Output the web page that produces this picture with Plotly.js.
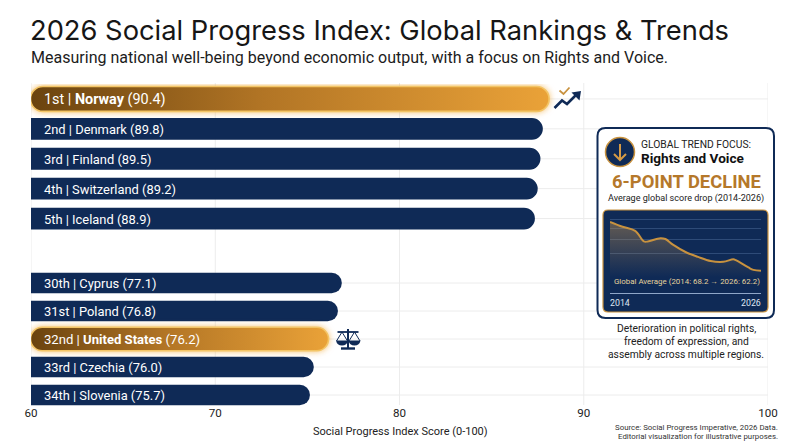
<!DOCTYPE html>
<html><head><meta charset="utf-8">
<script src="https://cdn.plot.ly/plotly-3.0.1.min.js"></script>
<style>html,body{margin:0;padding:0;background:#fff}#c{width:800px;height:447px}</style>
</head><body><div id="c"></div>
<script>
// ---- data ----
const topRanks = ['1st','2nd','3rd','4th','5th'];
const topCountries = ['Norway','Denmark','Finland','Switzerland','Iceland'];
const topScores = ['90.4','89.8','89.5','89.2','88.9'];      // as printed on the bars
const topBarEnds = [88.12,87.78,87.65,87.5,87.35];           // bar ends as read against the axis
const topFocus = [true,false,false,false,false];
const topLabelSizes = [14.4,12.9,12.9,12.9,12.9];

const lowRanks = ['30th','31st','32nd','33rd','34th'];
const lowCountries = ['Cyprus','Poland','United States','Czechia','Slovenia'];
const lowScores = ['77.1','76.8','76.2','76.0','75.7'];
const lowBarEnds = [76.87,76.66,76.15,75.35,75.14];
const lowFocus = [false,false,true,false,false];
const lowLabelSizes = [12.9,12.9,13.1,12.9,12.9];

const xTicks = [60,70,80,90,100];
const trendYears =  [2014,2015,2016,2016.7,2017,2018,2018.4,2019,2020,2021,2022,2023,2023.8,2024,2025,2025.4,2026];
const trendValues = [68.2,67.6,67.1,65.8,65.8,66.2,66.1,65.4,64.5,63.9,63.4,63.3,63.6,63.5,62.6,62.3,62.2];
const trendGrid = [68.45,67.35,66.0,64.3];

const NAVY='#0f2a56', GOLD='#b5782a', W=800, H=447;
const PX=x=>x/W, PY=y=>1-y/H;
const P=(x,y)=>PX(x)+' '+PY(y);
const path=pts=>'M'+pts.map(p=>P(p[0],p[1])).join(' L');
function rr(x0,y0,x1,y1,r){
  return 'M'+P(x0+r,y0)+' L'+P(x1-r,y0)+' Q'+P(x1,y0)+' '+P(x1,y0+r)+' L'+P(x1,y1-r)+' Q'+P(x1,y1)+' '+P(x1-r,y1)+
   ' L'+P(x0+r,y1)+' Q'+P(x0,y1)+' '+P(x0,y1-r)+' L'+P(x0,y0+r)+' Q'+P(x0,y0)+' '+P(x0+r,y0)+' Z';
}
const pathShape=(d,o)=>Object.assign({type:'path',xref:'paper',yref:'paper',path:d,layer:'above',line:{width:0}},o);
const GRID='#ececec';

// gridlines come first so that the panel covers them
const shapes=[];
xTicks.forEach(v=>shapes.push({type:'line',xref:'x',yref:'paper',x0:v,x1:v,y0:PY(83),y1:PY(405),layer:'below',line:{color:GRID,width:1}}));
topCountries.forEach(c=>shapes.push({type:'line',xref:'paper',yref:'y',x0:PX(31),x1:PX(768),y0:c,y1:c,layer:'below',line:{color:GRID,width:1}}));
lowCountries.forEach(c=>shapes.push({type:'line',xref:'paper',yref:'y2',x0:PX(31),x1:PX(768),y0:c,y1:c,layer:'below',line:{color:GRID,width:1}}));
// panel
shapes.push(pathShape(rr(597.5,128,774,318,8),{layer:'below',fillcolor:'#fff',line:{color:NAVY,width:2}}));
shapes.push(pathShape(rr(603,210,768,312,5),{layer:'below',fillcolor:NAVY,line:{color:'#c8923f',width:1.2}}));
shapes.push({type:'line',xref:'paper',yref:'paper',x0:PX(610),x1:PX(761),y0:PY(293.5),y1:PY(293.5),layer:'below',line:{color:'#8fa6c8',width:1}});
// round badge with down arrow
shapes.push({type:'circle',xref:'paper',yref:'paper',x0:PX(605.5),x1:PX(634.5),y0:PY(166.5),y1:PY(137.5),layer:'above',fillcolor:NAVY,line:{color:'#c8923f',width:1.5}});
shapes.push(pathShape(path([[620,144],[620,160]]),{line:{color:'#d59a45',width:2}}));
shapes.push(pathShape(path([[614,154],[620,160],[626,154]]),{fillcolor:'rgba(0,0,0,0)',line:{color:'#d59a45',width:2}}));
// trend icon
shapes.push(pathShape(path([[554.5,108],[562,100.5],[567,104],[577,94]]),{fillcolor:'rgba(0,0,0,0)',line:{color:NAVY,width:2.6}}));
shapes.push(pathShape(path([[581,91],[571.5,92.5],[579.5,100.5]])+' Z',{fillcolor:NAVY}));
shapes.push(pathShape(path([[559.5,90.5],[563.5,94],[569.5,87.5]]),{fillcolor:'rgba(0,0,0,0)',line:{color:'#c8923f',width:1.8}}));
// scales icon
shapes.push(pathShape(path([[348,329],[348,348]]),{line:{color:NAVY,width:2}}));
shapes.push(pathShape(path([[337.5,332],[358.5,332]]),{line:{color:NAVY,width:1.8}}));
shapes.push(pathShape(path([[341,348.5],[355,348.5]]),{line:{color:NAVY,width:2.4}}));
[[342,-1],[354.5,1]].forEach(s=>{
  const c=s[0];
  shapes.push(pathShape(path([[c-5.5,341],[c,332],[c+5.5,341]]),{fillcolor:'rgba(0,0,0,0)',line:{color:NAVY,width:1}}));
  shapes.push(pathShape('M'+P(c-6,340.5)+' L'+P(c+6,340.5)+' Q'+P(c+5,345.5)+' '+P(c,345.5)+' Q'+P(c-5,345.5)+' '+P(c-6,340.5)+' Z',{fillcolor:NAVY}));
});

const ann=(text,x,y,size,color,anchor,extra)=>Object.assign({text,xref:'paper',yref:'paper',x:PX(x),y:PY(y),xanchor:anchor||'left',yanchor:'middle',showarrow:false,borderpad:0,
  font:{family:'Roboto',size,color}},extra||{});
const annotations=[
 ann('Measuring national well-being beyond economic output, with a focus on Rights and Voice.',30,58,16.05,'#1c1c1c'),
 ann('GLOBAL TREND FOCUS:',640,144,10.3,'#222'),
 ann('<b>Rights and Voice</b>',640,157.5,13.6,'#111'),
 ann('<b>6-POINT DECLINE</b>',686,182,18.4,GOLD,'center'),
 ann('Average global score drop (2014-2026)',686,198,9.05,'#222','center'),
 ann('Global Average (2014: 68.2 → 2026: 62.2)',687,281,7.9,'#e6d39c','center'),
 ann('Deterioration in political rights,',686,328,10.3,'#222','center'),
 ann('freedom of expression, and',686,341,10.3,'#222','center'),
 ann('assembly across multiple regions.',686,354,10.3,'#222','center'),
 ann('Social Progress Index Score (0-100)',400,431,11,'#222','center'),
 ann('Source: Social Progress Imperative, 2026 Data.',779,427,7.85,'#333','right'),
 ann('Editorial visualization for illustrative purposes.',779,436,7.85,'#333','right'),
 {text:'2014',xref:'x2',yref:'paper',x:2014,y:PY(302.5),xanchor:'left',yanchor:'middle',xshift:-2,showarrow:false,font:{family:'Roboto',size:8.8,color:'#dfe6f2'}},
 {text:'2026',xref:'x2',yref:'paper',x:2026,y:PY(302.5),xanchor:'right',yanchor:'middle',xshift:2,showarrow:false,font:{family:'Roboto',size:8.8,color:'#dfe6f2'}}
];
function barLabels(ranks,countries,scores,focus,sizes,yref){
  countries.forEach((c,i)=>annotations.push({
    text: focus[i] ? ranks[i]+' | <b>'+c+'</b> ('+scores[i]+')' : ranks[i]+' | '+c+' ('+scores[i]+')',
    xref:'x',yref,x:xTicks[0],y:c,xanchor:'left',yanchor:'middle',xshift:11,yshift:-0.6,showarrow:false,
    font:{family:'Roboto',size:sizes[i],color:'#fff'}}));
}
barLabels(topRanks,topCountries,topScores,topFocus,topLabelSizes,'y');
barLabels(lowRanks,lowCountries,lowScores,lowFocus,lowLabelSizes,'y2');

const AXIS_START=xTicks[0];
const bar=(vals,cats,focus,ya)=>({type:'bar',orientation:'h',x:vals.map(v=>v-AXIS_START),base:AXIS_START,y:cats,xaxis:'x',yaxis:ya,hoverinfo:'skip',
  marker:{color:focus.map(f=>f?'#c8892f':NAVY),line:{width:0}}});

const data=[
 bar(topBarEnds,topCountries,topFocus,'y'),
 bar(lowBarEnds,lowCountries,lowFocus,'y2'),
 {type:'scatter',mode:'lines',x:trendYears,y:trendValues,xaxis:'x2',yaxis:'y3',hoverinfo:'skip',
  line:{color:'#c8923f',width:2,shape:'spline',smoothing:1},fill:'tozeroy',
  fillgradient:{type:'vertical',start:61.4,stop:68.2,colorscale:[[0,'rgba(200,150,80,0)'],[1,'rgba(200,150,80,0.45)']]}}
];
const layout={
 width:W,height:H,margin:{l:0,r:0,t:0,b:0},paper_bgcolor:'#fff',plot_bgcolor:'rgba(0,0,0,0)',showlegend:false,bargap:0.27,
 title:{text:'2026 Social Progress Index: Global Rankings & Trends',x:PX(30),xanchor:'left',y:PY(30),yanchor:'middle',
   font:{family:'Inter',size:27.3,color:'#161616',weight:400}},
 xaxis:{domain:[PX(31),PX(768)],range:[60,100],tickvals:xTicks,anchor:'free',position:PY(404),showgrid:false,zeroline:false,showline:false,ticks:'',
   tickfont:{family:'Roboto',size:11.6,color:'#222'},automargin:false},
 yaxis:{domain:[PY(233.5),PY(84)],type:'category',categoryorder:'array',categoryarray:topCountries,range:[4.5,-0.5],visible:false,anchor:'x',fixedrange:true},
 yaxis2:{domain:[PY(409),PY(269)],type:'category',categoryorder:'array',categoryarray:lowCountries,range:[4.5,-0.5],visible:false,anchor:'x',fixedrange:true},
 xaxis2:{domain:[PX(610),PX(761)],range:[2014,2026],anchor:'y3',visible:false,fixedrange:true},
 yaxis3:{domain:[PY(293.5),PY(212)],range:[59.4,69.42],anchor:'x2',showgrid:true,gridcolor:'rgba(130,160,210,0.28)',gridwidth:1,tickvals:trendGrid,showticklabels:false,ticks:'',zeroline:false,showline:false,fixedrange:true},
 shapes,annotations
};
Plotly.newPlot('c',data,layout,{displayModeBar:false,staticPlot:true}).then(gd=>{
  // bar ends: navy bars get a rounded far end, gold bars become glowing gradient pills; the library's bar geometry is kept
  const svg=gd.querySelector('.main-svg');
  const ns='http://www.w3.org/2000/svg';
  const defs=svg.querySelector('defs')||svg.insertBefore(document.createElementNS(ns,'defs'),svg.firstChild);
  const g=document.createElementNS(ns,'linearGradient');
  g.setAttribute('id','goldGrad');
  [['0%','#6a430f'],['45%','#b27525'],['100%','#eaa238']].forEach(s=>{
    const st=document.createElementNS(ns,'stop');st.setAttribute('offset',s[0]);st.setAttribute('stop-color',s[1]);g.appendChild(st);});
  defs.appendChild(g);
  const flags=[topFocus,lowFocus];
  gd.querySelectorAll('.barlayer .trace.bars').forEach((tr,t)=>{
    const plot=tr.closest('.plot'); if(plot){plot.removeAttribute('clip-path');plot.style.clipPath='none';}
    tr.querySelectorAll('.point path').forEach((p,i)=>{
      const b=p.getBBox();
      if(!flags[t][i]){
        const x0=b.x,x1=b.x+b.width,y0=b.y,y1=b.y+b.height,r=(y1-y0)/2;
        p.setAttribute('d',`M${x0},${y0}H${x1-r}A${r},${r} 0 0 1 ${x1-r},${y1}H${x0}Z`);
        return;
      }
      const x0=b.x-0.5,x1=b.x+b.width,y0=b.y-1.5,y1=b.y+b.height+1.5,r=(y1-y0)/2;
      p.setAttribute('d',`M${x0+r},${y0}H${x1-r}A${r},${r} 0 0 1 ${x1-r},${y1}H${x0+r}A${r},${r} 0 0 1 ${x0+r},${y0}Z`);
      p.style.fill='url(#goldGrad)';
      p.style.stroke='#f3c566';p.style.strokeWidth='1.6px';p.style.strokeOpacity='1';
      p.style.filter='drop-shadow(0 0 3px rgba(240,170,60,0.75))';
    });
  });
});
</script></body></html>
